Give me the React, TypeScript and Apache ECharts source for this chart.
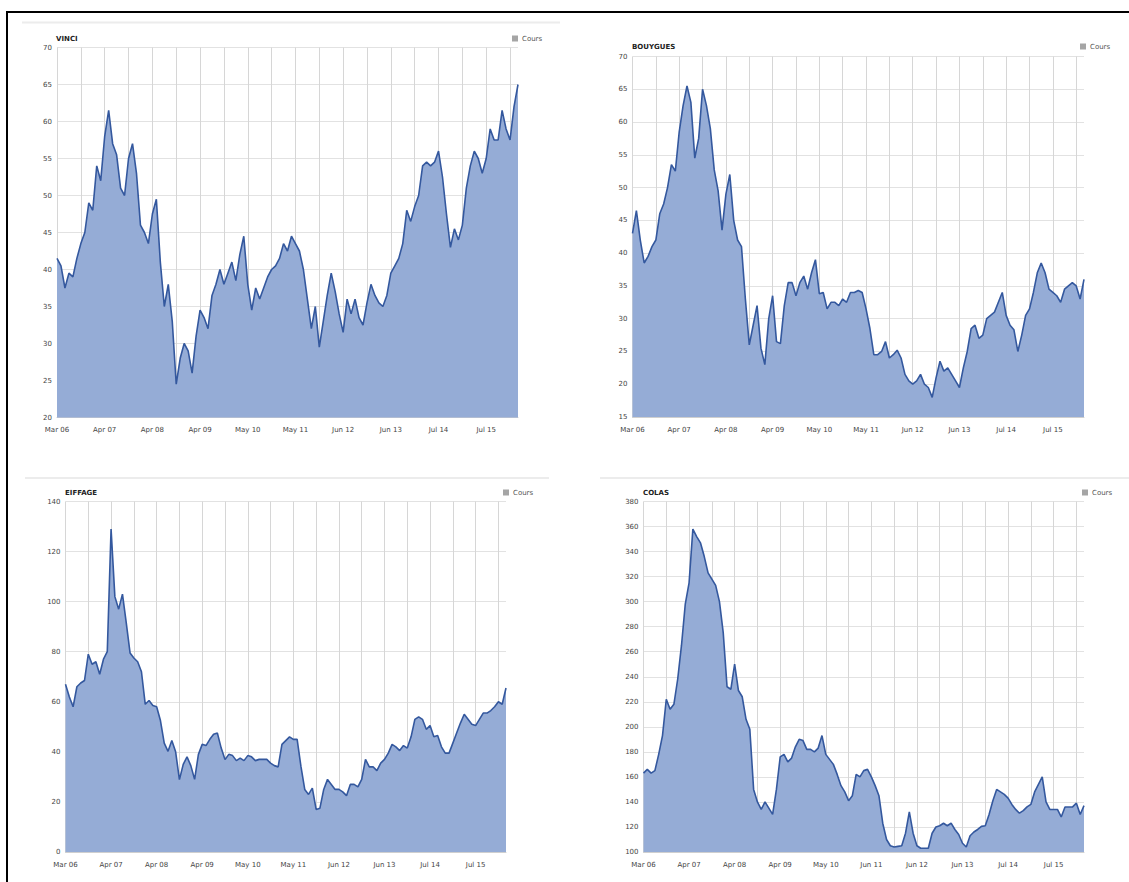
import React, { useEffect, useRef } from "react";
import * as echarts from "echarts";

// Tick labels (one per year)
const vinciLabels = ["Mar 06", "Apr 07", "Apr 08", "Apr 09", "May 10", "May 11", "Jun 12", "Jun 13", "Jul 14", "Jul 15"];
const bouyguesLabels = ["Mar 06", "Apr 07", "Apr 08", "Apr 09", "May 10", "May 11", "Jun 12", "Jun 13", "Jul 14", "Jul 15"];
const eiffageLabels = ["Mar 06", "Apr 07", "Apr 08", "Apr 09", "May 10", "May 11", "Jun 12", "Jun 13", "Jul 14", "Jul 15"];
const colasLabels = ["Mar 06", "Apr 07", "Apr 08", "Apr 09", "May 10", "Jun 11", "Jun 12", "Jun 13", "Jul 14", "Jul 15"];

// Series values (roughly monthly samples)
const vinciValues = [
  41.5, 40.5, 37.5, 39.5, 39, 41.5, 43.5, 45, 49, 48,
  54, 52, 58, 61.5, 57, 55.5, 51, 50, 55, 57,
  53, 46, 45, 43.5, 47.5, 49.5, 41, 35, 38, 33,
  24.5, 28, 30, 29, 26, 31, 34.5, 33.5, 32, 36.5,
  38, 40, 38, 39.5, 41, 38.5, 42, 44.5, 38, 34.5,
  37.5, 36, 37.5, 39, 40, 40.5, 41.5, 43.5, 42.5, 44.5,
  43.5, 42.5, 40, 36, 32, 35, 29.5, 33, 36.5, 39.5,
  37, 34, 31.5, 36, 34, 36, 33.5, 32.5, 35.5, 38,
  36.5, 35.5, 35, 36.5, 39.5, 40.5, 41.5, 43.5, 48, 46.5,
  48.5, 50, 54, 54.5, 54, 54.5, 56, 52.5, 47.5, 43,
  45.5, 44, 46, 51, 54, 56, 55, 53, 55, 59,
  57.5, 57.5, 61.5, 59, 57.5, 62, 65,
];

const bouyguesValues = [
  43, 46.5, 42, 38.5, 39.5, 41, 42, 46, 47.5, 50,
  53.5, 52.5, 58.5, 62.5, 65.5, 63, 54.5, 57.5, 65, 62.5,
  59, 52.7, 49.5, 43.5, 49, 52, 45, 42, 41, 33,
  26, 29, 32, 25.5, 23, 30, 33.5, 26.5, 26.2, 32,
  35.5, 35.5, 33.5, 35.5, 36.5, 34.5, 37, 39, 33.8, 34,
  31.5, 32.5, 32.5, 32, 33, 32.5, 34, 34, 34.3, 34,
  31.5, 28.5, 24.5, 24.5, 25, 26.5, 24, 24.5, 25.2, 24,
  21.5, 20.5, 20, 20.5, 21.5, 20, 19.5, 18, 21, 23.5,
  22, 22.5, 21.5, 20.5, 19.5, 22.5, 25, 28.5, 29, 27,
  27.5, 30, 30.5, 31, 32.5, 34, 30.5, 29, 28.3, 25,
  27.5, 30.5, 31.5, 34, 37, 38.5, 37, 34.5, 34, 33.5,
  32.5, 34.5, 35, 35.5, 35, 33, 36,
];

const eiffageValues = [
  67, 62, 58, 66, 67.5, 68.5, 79, 75, 76, 71,
  77, 80, 129, 102, 97, 103, 91.5, 79.5, 77.5, 76,
  72, 59, 60.5, 58.5, 58, 52.5, 43.5, 40.2, 44.5, 40,
  28.9, 35, 38, 34.5, 29, 39, 43, 42.5, 45, 47,
  47.5, 41.5, 36.9, 39, 38.5, 36.5, 37.5, 36.5, 38.5, 38,
  36.5, 37, 37, 37, 35.5, 34.5, 34, 43, 44.5, 46,
  45, 45, 34.2, 25, 23, 25.5, 17, 17.5, 25, 29,
  27, 25, 25, 24, 22.5, 27, 27, 26, 29, 37,
  34, 34, 32.5, 35.5, 37, 39.5, 43, 42, 40.5, 42.5,
  41.5, 46, 53, 54, 53, 49, 50.5, 46, 46.5, 42,
  39.5, 39.5, 43.5, 47.5, 51.5, 55, 53, 51, 50.5, 53,
  55.5, 55.5, 56.5, 58, 60, 59, 65.5,
];

const colasValues = [
  163, 166, 163, 165, 178, 193, 222, 214, 218, 238,
  265, 298, 315, 358, 352, 347, 336, 323, 318, 313,
  300, 275, 232, 230, 250, 229, 224, 206, 198, 150,
  140, 134, 140, 135, 130, 150, 176, 178, 172, 175,
  184, 190, 189, 182, 182, 180, 183, 193, 178, 174,
  170, 162, 153, 148, 141, 145, 162, 160, 165, 166,
  160, 153, 145, 123, 110, 105, 104, 104.5, 105, 115,
  132, 115, 105, 103, 103, 103, 115, 120, 121, 123,
  121, 123, 118, 114, 107, 104, 113, 116, 118, 120.5,
  121, 130, 141, 150, 148, 146, 143, 138, 134, 131,
  133, 136, 138, 148, 154, 160, 140, 134, 134, 134,
  128, 136, 136, 136, 139, 130, 137,
];

const POINTS_PER_LABEL = 12;
const POINTS_PER_GRIDLINE = 6;

const panels = [
  { title: "VINCI", labels: vinciLabels, values: vinciValues, min: 20, max: 70, interval: 5,
    grid: { left: 57, top: 47.5, width: 461, height: 370 }, titlePos: { left: 56, top: 35 }, legendPos: { left: 512, top: 35 } },
  { title: "BOUYGUES", labels: bouyguesLabels, values: bouyguesValues, min: 15, max: 70, interval: 5,
    grid: { left: 632.5, top: 56.5, width: 451.5, height: 360.5 }, titlePos: { left: 632, top: 43 }, legendPos: { left: 1080, top: 43 } },
  { title: "EIFFAGE", labels: eiffageLabels, values: eiffageValues, min: 0, max: 140, interval: 20,
    grid: { left: 65.5, top: 501.5, width: 440.5, height: 350.5 }, titlePos: { left: 65, top: 489 }, legendPos: { left: 503, top: 489 } },
  { title: "COLAS", labels: colasLabels, values: colasValues, min: 100, max: 380, interval: 20,
    grid: { left: 643.5, top: 501.5, width: 440.5, height: 350.5 }, titlePos: { left: 643, top: 489 }, legendPos: { left: 1082, top: 489 } },
];

const FONT = "DejaVu Sans";

export default function App() {
  const ref = useRef<HTMLDivElement>(null);

  useEffect(() => {
    if (!ref.current) return;
    const chart = echarts.init(ref.current, null, { renderer: "svg" });

    const option: any = {
      animation: false,
      backgroundColor: "#ffffff",
      title: panels.map((p) => ({
        text: p.title,
        left: p.titlePos.left,
        top: p.titlePos.top,
        padding: 0,
        textStyle: { fontFamily: FONT, fontSize: 7, fontWeight: "bold", color: "#222" },
      })),
      legend: panels.map((p) => ({
        data: ["Cours"],
        left: p.legendPos.left,
        top: p.legendPos.top,
        padding: 0,
        icon: "rect",
        itemWidth: 6,
        itemHeight: 6,
        itemGap: 4,
        selectedMode: false,
        itemStyle: { color: "#a5a5a5" },
        textStyle: { fontFamily: FONT, fontSize: 7, color: "#555", padding: [0, 0, 0, -1] },
      })),
      grid: panels.map((p) => ({ ...p.grid, containLabel: false })),
      xAxis: panels.map((p, gi) => ({
        type: "category",
        gridIndex: gi,
        boundaryGap: false,
        data: p.values.map((_, i) => String(i)),
        axisLine: { show: true, lineStyle: { color: "#cfcfcf", width: 1 } },
        axisTick: { show: false },
        axisLabel: {
          interval: POINTS_PER_LABEL - 1,
          margin: 9,
          fontFamily: FONT,
          fontSize: 7,
          color: "#444",
          formatter: (_v: string, i: number) =>
            i % POINTS_PER_LABEL === 0 ? p.labels[i / POINTS_PER_LABEL] ?? "" : "",
        },
        splitLine: {
          show: true,
          interval: (i: number) => i % POINTS_PER_GRIDLINE === 0,
          lineStyle: { color: "#d6d6d6", width: 1 },
        },
      })),
      yAxis: panels.map((p, gi) => ({
        type: "value",
        gridIndex: gi,
        min: p.min,
        max: p.max,
        interval: p.interval,
        axisLine: { show: false },
        axisTick: { show: false },
        axisLabel: { margin: 5, fontFamily: FONT, fontSize: 7, color: "#444" },
        splitLine: { show: true, lineStyle: { color: "#e2e2e2", width: 1 } },
      })),
      series: panels.map((p, gi) => ({
        name: "Cours",
        type: "line",
        xAxisIndex: gi,
        yAxisIndex: gi,
        data: p.values,
        showSymbol: false,
        symbol: "none",
        lineStyle: { color: "#34589e", width: 1.6 },
        itemStyle: { color: "#34589e" },
        areaStyle: { color: "#95acd6", opacity: 1, origin: "start" },
      })),
      graphic: [
        { type: "line", shape: { x1: 6, y1: 12, x2: 1129, y2: 12 }, style: { stroke: "#000", lineWidth: 2 } },
        { type: "line", shape: { x1: 7, y1: 11, x2: 7, y2: 882 }, style: { stroke: "#000", lineWidth: 2 } },
        { type: "line", shape: { x1: 22, y1: 22.5, x2: 560, y2: 22.5 }, style: { stroke: "#ececec", lineWidth: 2 } },
        { type: "line", shape: { x1: 25, y1: 478, x2: 549, y2: 478 }, style: { stroke: "#ececec", lineWidth: 2 } },
        { type: "line", shape: { x1: 600, y1: 478, x2: 1129, y2: 478 }, style: { stroke: "#ececec", lineWidth: 2 } },
      ],
    };

    chart.setOption(option);
    return () => chart.dispose();
  }, []);

  return (
    <div
      ref={ref}
      style={{ position: "fixed", left: 0, top: 0, width: 1129, height: 882, background: "#fff" }}
    />
  );
}
